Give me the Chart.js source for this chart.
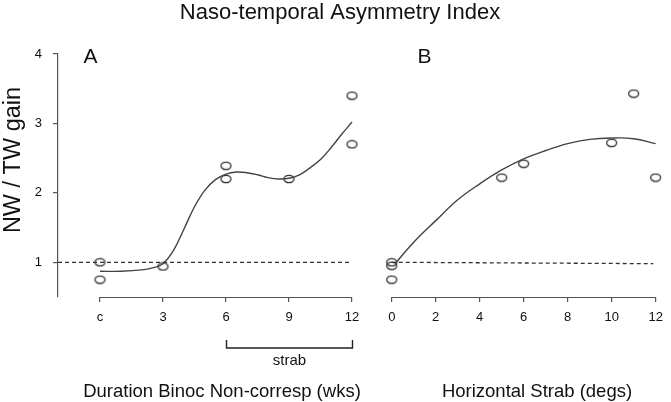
<!DOCTYPE html>
<html>
<head>
<meta charset="utf-8">
<script src="https://cdn.jsdelivr.net/npm/chart.js@4"></script>
<style>
  body { margin: 0; background: #fff; }
  #wrap { position: relative; width: 671px; height: 402px; }
  canvas { position: absolute; left: 0; top: 0; }
</style>
</head>
<body>
<div id="wrap">
  <canvas id="chartA" width="671" height="402"></canvas>
  <canvas id="chartB" width="671" height="402"></canvas>
</div>
<script>
// ---- data ----
const yTicks = [1, 2, 3, 4];

// panel A: duration of binocular non-correspondence (weeks), "c" = control
const xTicksA = [0, 3, 6, 9, 12];
const xLabelsA = ['c', '3', '6', '9', '12'];
const ptsAx = [0, 0, 3, 6, 6, 9, 12, 12];
const ptsAy = [1.0, 0.75, 0.94, 2.39, 2.2, 2.2, 3.4, 2.7];
const curveAx = [0, 1, 2, 2.5, 3, 3.5, 4, 4.5, 5, 5.5, 6, 6.5, 7, 7.5, 8, 8.5, 9, 9.5, 10, 10.5, 11, 11.5, 12];
const curveAy = [0.87, 0.87, 0.89, 0.92, 0.98, 1.17, 1.48, 1.8, 2.04, 2.19, 2.27, 2.3, 2.29, 2.26, 2.22, 2.2, 2.21, 2.26, 2.36, 2.48, 2.65, 2.84, 3.02];
const refAx = [-2, 11.9];
const refAy = [1, 1];

// panel B: horizontal strabismus (degrees)
const xTicksB = [0, 2, 4, 6, 8, 10, 12];
const ptsBx = [0, 0, 0, 5, 6, 10, 11, 12];
const ptsBy = [1.0, 0.95, 0.75, 2.22, 2.42, 2.72, 3.43, 2.22];
const curveBx = [0.15, 1, 2, 3, 4, 5, 6, 7, 8, 9, 10, 11, 12];
const curveBy = [0.98, 1.29, 1.6, 1.9, 2.13, 2.33, 2.49, 2.61, 2.71, 2.77, 2.79, 2.78, 2.71];
const refBx = [0, 11.9];
const refBy = [1.0, 0.98];

const FONT = '"Liberation Sans", Arial, sans-serif';
const INK = '#111';
const LINE = '#444';

function pairs(xs, ys) {
    return xs.map((x, i) => ({ x: x, y: ys[i] }));
}

// open ellipse marker (the printed circles are a bit wider than tall)
function makeMarker() {
    let c = document.createElement('canvas');
    c.width = 13;
    c.height = 10;
    let g = c.getContext('2d');
    g.strokeStyle = '#333';
    g.lineWidth = 1.3;
    g.beginPath();
    g.ellipse(6.5, 5, 5, 3.7, 0, 0, Math.PI * 2);
    g.stroke();
    return c;
}
const marker = makeMarker();

// R style x axis line: only between the first and last tick
const xAxisLine = {
    id: 'xAxisLine',
    afterDraw(chart) {
        let sc = chart.scales.x;
        let ctx = chart.ctx;
        let vals = sc.ticks.map(t => t.value);
        ctx.save();
        ctx.strokeStyle = '#555';
        ctx.lineWidth = 1.2;
        ctx.beginPath();
        ctx.moveTo(sc.getPixelForValue(vals[0]), sc.top + 0.5);
        ctx.lineTo(sc.getPixelForValue(vals[vals.length - 1]), sc.top + 0.5);
        ctx.stroke();
        ctx.restore();
    }
};

// titles, panel letters and the "strab" bracket
const annotations = {
    id: 'annotations',
    afterDraw(chart) {
        let ctx = chart.ctx;
        let sx = chart.scales.x;
        ctx.save();
        ctx.fillStyle = INK;
        ctx.textAlign = 'center';
        ctx.textBaseline = 'alphabetic';

        ctx.font = '22px ' + FONT;
        ctx.fillText('Naso-temporal Asymmetry Index', 340, 19);

        ctx.font = '21px ' + FONT;
        ctx.fillText('A', 90.5, 63);
        ctx.fillText('B', 424.5, 63);

        ctx.font = '18.5px ' + FONT;
        ctx.fillText('Duration Binoc Non-corresp (wks)', 222, 397);
        ctx.fillText('Horizontal Strab (degs)', 537, 397);

        ctx.save();
        ctx.translate(20, 160);
        ctx.rotate(-Math.PI / 2);
        ctx.font = '23.5px ' + FONT;
        ctx.fillText('NW / TW gain', 0, 0);
        ctx.restore();

        // bracket under weeks 6..12
        let x0 = Math.round(sx.getPixelForValue(6)) + 0.5;
        let x1 = Math.round(sx.getPixelForValue(12)) + 0.5;
        ctx.strokeStyle = '#222';
        ctx.lineWidth = 1.4;
        ctx.beginPath();
        ctx.moveTo(x0, 340);
        ctx.lineTo(x0, 348);
        ctx.lineTo(x1, 348);
        ctx.lineTo(x1, 340);
        ctx.stroke();
        ctx.font = '15px ' + FONT;
        ctx.fillText('strab', (x0 + x1) / 2, 365);
        ctx.restore();
    }
};

function xScale(min, max, ticks, labels) {
    return {
        type: 'linear',
        min: min,
        max: max,
        afterBuildTicks: (scale) => {
            scale.ticks = ticks.map(v => ({ value: v }));
        },
        afterFit: (scale) => {
            scale.height = 105;
        },
        border: { display: false },
        grid: {
            drawOnChartArea: false,
            drawTicks: true,
            tickLength: 5,
            lineWidth: 1.2,
            color: '#555'
        },
        ticks: {
            autoSkip: false,
            maxRotation: 0,
            padding: 8,
            color: INK,
            font: { family: FONT, size: 13 },
            callback: (v, i) => labels ? labels[i] : String(v)
        }
    };
}

function datasets(curveX, curveY, refX, refY, ptsX, ptsY) {
    return [
        {
            type: 'line',
            data: pairs(refX, refY),
            borderColor: '#333',
            borderWidth: 1.3,
            borderDash: [4, 3],
            pointRadius: 0,
            fill: false
        },
        {
            type: 'line',
            data: pairs(curveX, curveY),
            borderColor: LINE,
            borderWidth: 1.4,
            tension: 0.4,
            pointRadius: 0,
            fill: false
        },
        {
            type: 'scatter',
            data: pairs(ptsX, ptsY),
            pointStyle: marker,
            pointRadius: 5,
            showLine: false
        }
    ];
}

const common = {
    responsive: false,
    animation: false,
    devicePixelRatio: 1,
    plugins: {
        legend: { display: false },
        tooltip: { enabled: false }
    }
};

// panel A
new Chart(document.getElementById('chartA'), {
    type: 'scatter',
    data: { datasets: datasets(curveAx, curveAy, refAx, refAy, ptsAx, ptsAy) },
    options: Object.assign({}, common, {
        layout: { padding: { left: 0, top: 54, right: 308.5, bottom: 0 } },
        scales: {
            x: xScale(-2, 12.5, xTicksA, xLabelsA),
            y: {
                type: 'linear',
                min: 0.5,
                max: 4,
                afterBuildTicks: (scale) => {
                    scale.ticks = yTicks.map(v => ({ value: v }));
                },
                afterFit: (scale) => {
                    scale.width = 58;
                },
                border: { display: true, color: '#555', width: 1.2 },
                grid: {
                    drawOnChartArea: false,
                    drawTicks: true,
                    tickLength: 5,
                    lineWidth: 1.2,
                    color: '#555'
                },
                ticks: {
                    padding: 11,
                    color: INK,
                    font: { family: FONT, size: 13 }
                }
            }
        }
    }),
    plugins: [xAxisLine, annotations]
});

// panel B
new Chart(document.getElementById('chartB'), {
    type: 'scatter',
    data: { datasets: datasets(curveBx, curveBy, refBx, refBy, ptsBx, ptsBy) },
    options: Object.assign({}, common, {
        layout: { padding: { left: 380.75, top: 54, right: 2.25, bottom: 0 } },
        scales: {
            x: xScale(-0.5, 12.3, xTicksB, null),
            y: {
                type: 'linear',
                display: false,
                min: 0.5,
                max: 4
            }
        }
    }),
    plugins: [xAxisLine]
});
</script>
</body>
</html>
